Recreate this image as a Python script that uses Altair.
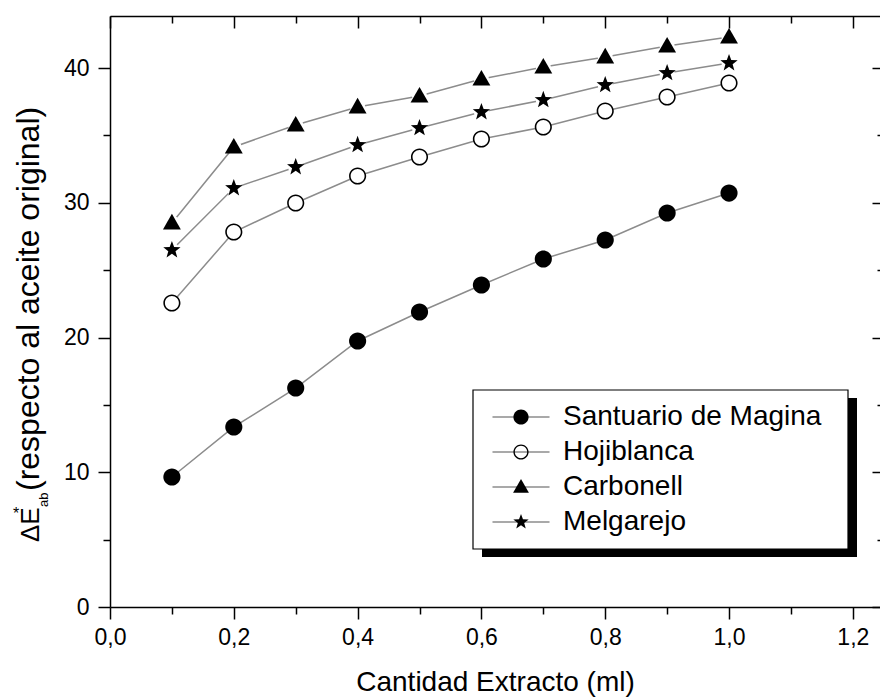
import altair as alt
import pandas as pd

FONT = "Liberation Sans"

# ---------------- data ----------------
x_vals = [0.1, 0.2, 0.3, 0.4, 0.5, 0.6, 0.7, 0.8, 0.9, 1.0]
santuario = [9.65, 13.36, 16.25, 19.74, 21.89, 23.90, 25.83, 27.24, 29.24, 30.72]
hojiblanca = [22.56, 27.83, 29.98, 31.99, 33.40, 34.73, 35.62, 36.81, 37.85, 38.89]
carbonell = [28.50, 34.14, 35.77, 37.11, 37.92, 39.18, 40.07, 40.82, 41.63, 42.30]
melgarejo = [26.49, 31.09, 32.65, 34.29, 35.55, 36.73, 37.63, 38.74, 39.63, 40.37]
series_names = ["Santuario de Magina", "Hojiblanca", "Carbonell", "Melgarejo"]

x_major = [0.0, 0.2, 0.4, 0.6, 0.8, 1.0, 1.2]
x_minor = [0.1, 0.3, 0.5, 0.7, 0.9, 1.1]
y_major = [0, 10, 20, 30, 40]
y_minor = [5, 15, 25, 35]

x_title = "Cantidad Extracto (ml)"
y_title_main = "(respecto al aceite original)"

line_keys = [n + " " for n in series_names]  # separate key so the line legend is not merged

rows = []
for name, key, vals in zip(series_names, line_keys, [santuario, hojiblanca, carbonell, melgarejo]):
    for xv, yv in zip(x_vals, vals):
        rows.append({"x": xv, "y": yv, "serie": name, "serie2": key})
df = pd.DataFrame(rows)

# marker shapes (unit paths, filled black)
DOT = "M0,-1.13A1.13,1.13,0,1,1,0,1.13A1.13,1.13,0,1,1,0,-1.13Z"
RING = ("M0,-1.13A1.13,1.13,0,1,1,0,1.13A1.13,1.13,0,1,1,0,-1.13Z"
        "M0,-0.92A0.92,0.92,0,1,0,0,0.92A0.92,0.92,0,1,0,0,-0.92Z")
TRI = "M0,-1.2L1.18,0.85L-1.18,0.85Z"
STAR = ("M0,-1.2L0.294,-0.405L1.141,-0.371L0.476,0.155L0.705,0.971L0,0.5"
        "L-0.705,0.971L-0.476,0.155L-1.141,-0.371L-0.294,-0.405Z")
LEG_LINE = "M-4.25,0H4.25"

xs = alt.Scale(domain=[0, 1.2439], nice=False, zero=False)
ys = alt.Scale(domain=[0, 43.86], nice=False, zero=False)

common_axis = dict(grid=False, tickColor="black", tickWidth=1.5, domainColor="black",
                   domainWidth=1.5, labelFlush=False, labelOverlap=False)

ax_bottom_major = alt.Axis(orient="bottom", values=x_major, tickSize=12,
                           labelExpr="replace(format(datum.value, '.1f'), '.', ',')",
                           labelFont=FONT, labelFontSize=23, labelColor="black", labelPadding=7,
                           title=x_title, titleFont=FONT, titleFontSize=28, titleFontWeight="normal",
                           titleColor="black", titleBaseline="alphabetic", titleY=83,
                           **common_axis)
ax_left_major = alt.Axis(orient="left", values=y_major, tickSize=12, format="d",
                         labelFont=FONT, labelFontSize=23, labelColor="black", labelPadding=9,
                         title=None, **common_axis)
ax_bottom_minor = alt.Axis(orient="bottom", values=x_minor, tickSize=7, labels=False,
                           domain=False, title=None, **common_axis)
ax_left_minor = alt.Axis(orient="left", values=y_minor, tickSize=7, labels=False,
                         domain=False, title=None, **common_axis)
ax_top_major = alt.Axis(orient="top", values=x_major, tickSize=12, offset=-12, labels=False,
                        domain=False, title=None, **common_axis)
ax_top_minor = alt.Axis(orient="top", values=x_minor, tickSize=7, offset=-7, labels=False,
                        domain=False, title=None, **common_axis)
ax_right_major = alt.Axis(orient="right", values=y_major, tickSize=8, offset=-8, labels=False,
                          domain=False, title=None, **common_axis)
ax_right_minor = alt.Axis(orient="right", values=y_minor, tickSize=3, offset=-3, labels=False,
                          domain=False, title=None, **common_axis)
ax_top_domain = alt.Axis(orient="top", ticks=False, labels=False, domain=True,
                         title=None, **common_axis)

base = alt.Chart(df)

leg_common = dict(title=None, orient="none", labelFont=FONT, labelFontSize=28,
                  labelLimit=500, padding=0, rowPadding=7, zindex=1, symbolSize=180,
                  legendY=387, legendX=397, labelOffset=28)

lines = base.mark_line(strokeWidth=1.5).encode(
    x=alt.X("x:Q", scale=xs, axis=ax_bottom_major),
    y=alt.Y("y:Q", scale=ys, axis=ax_left_major),
    stroke=alt.Stroke("serie2:N",
                      scale=alt.Scale(domain=line_keys, range=["#8c8c8c"] * 4),
                      legend=alt.Legend(symbolType=LEG_LINE, symbolStrokeWidth=1.5,
                                        symbolFillColor="transparent", labelOpacity=0,
                                        **leg_common)),
)

# white discs under the markers (gives the open circle its white interior)
under = base.mark_point(filled=True, shape="circle", color="white", opacity=1, size=230).encode(
    x=alt.X("x:Q", scale=xs, axis=None),
    y=alt.Y("y:Q", scale=ys, axis=None),
)

points = base.mark_point(filled=True, opacity=1, size=230, color="black", strokeWidth=0).encode(
    x=alt.X("x:Q", scale=xs, axis=ax_bottom_minor),
    y=alt.Y("y:Q", scale=ys, axis=ax_left_minor),
    shape=alt.Shape("serie:N",
                    scale=alt.Scale(domain=series_names, range=[DOT, RING, TRI, STAR]),
                    legend=alt.Legend(labelColor="black", symbolStrokeWidth=0,
                                      symbolFillColor="black", **leg_common)),
)

inv1 = base.mark_point(opacity=0).encode(
    x=alt.X("x:Q", scale=xs, axis=ax_top_major),
    y=alt.Y("y:Q", scale=ys, axis=ax_right_major))
inv2 = base.mark_point(opacity=0).encode(
    x=alt.X("x:Q", scale=xs, axis=ax_top_minor),
    y=alt.Y("y:Q", scale=ys, axis=ax_right_minor))
inv3 = base.mark_point(opacity=0).encode(
    x=alt.X("x:Q", scale=xs, axis=ax_top_domain),
    y=alt.Y("y:Q", scale=ys, axis=None))

one = alt.Chart(pd.DataFrame({"k": [0]}))

shadow = one.mark_rect(color="black").encode(
    x=alt.value(372), x2=alt.value(747), y=alt.value(382), y2=alt.value(541))
box = one.mark_rect(fill="white", stroke="black", strokeWidth=1.2).encode(
    x=alt.value(363), x2=alt.value(738), y=alt.value(374), y2=alt.value(533))

ytxt_de = one.mark_text(angle=270, align="left", baseline="alphabetic", font=FONT,
                        fontSize=26, color="black").encode(
    x=alt.value(-71), y=alt.value(526), text=alt.value("ΔE"))
ytxt_star = one.mark_text(align="center", baseline="middle", font=FONT,
                          fontSize=16, color="black").encode(
    x=alt.value(-94), y=alt.value(498), text=alt.value("*"))
ytxt_ab = one.mark_text(angle=270, align="left", baseline="alphabetic", font=FONT,
                        fontSize=13, color="black").encode(
    x=alt.value(-62), y=alt.value(491), text=alt.value("ab"))
ytxt_main = one.mark_text(angle=270, align="left", baseline="alphabetic", font=FONT,
                          fontSize=32, color="black").encode(
    x=alt.value(-71), y=alt.value(475), text=alt.value(y_title_main))

chart = alt.layer(
    lines, under, points, inv1, inv2, inv3, shadow, box,
    ytxt_de, ytxt_star, ytxt_ab, ytxt_main,
).resolve_axis(x="independent", y="independent").properties(
    width=770, height=591,
    autosize=alt.AutoSizeParams(type="none"),
    padding={"left": 110, "top": 16, "right": 0, "bottom": 90},
    background="white",
).configure_view(stroke=None)

chart.save("out.html", embed_options={"renderer": "svg", "actions": False})
